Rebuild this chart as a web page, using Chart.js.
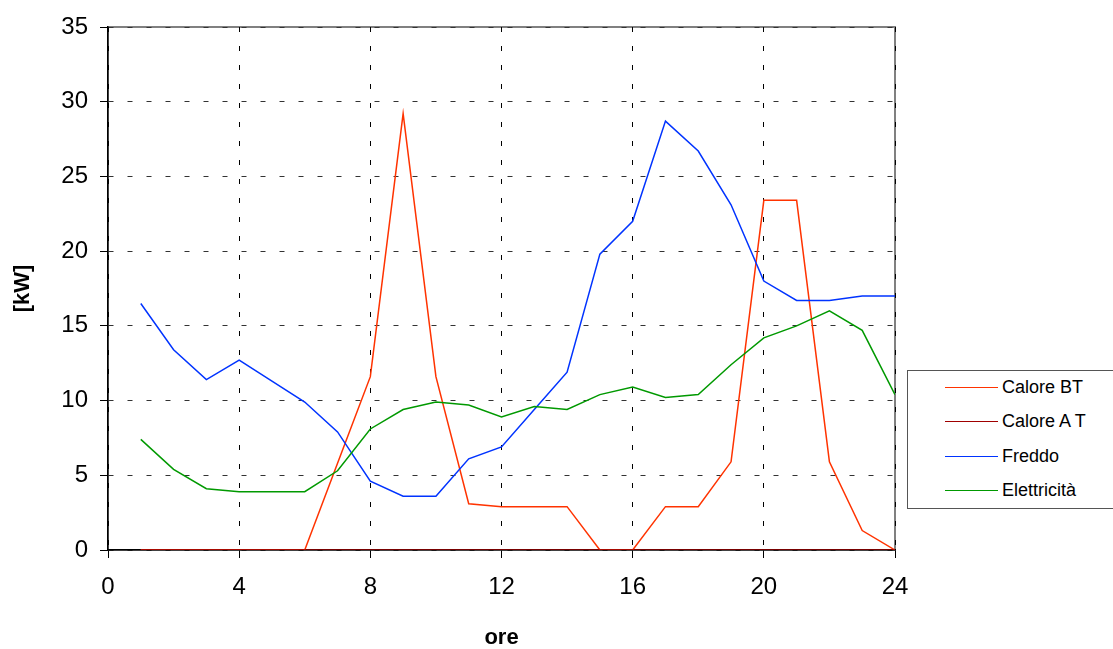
<!DOCTYPE html>
<html>
<head>
<meta charset="utf-8">
<script src="https://cdn.jsdelivr.net/npm/chart.js@4.4.1/dist/chart.umd.min.js"></script>
<style>
    body { margin: 0; background: #fff; }
    #wrap { position: relative; width: 1113px; height: 649px; }
    #legenda {
        position: absolute; left: 907px; top: 370px; width: 220px; height: 139px;
        border: 1px solid #555; box-sizing: border-box; background: #fff;
        font-family: "Liberation Sans", Arial, sans-serif; font-size: 18px; color: #000;
    }
    .voce { position: absolute; left: 37px; height: 20px; display: flex; align-items: center; }
    .voce span.linea { display: inline-block; width: 53px; height: 0; border-top: 1.5px solid; margin-right: 4px; }
</style>
</head>
<body>
<div id="wrap">
    <canvas id="grafico"></canvas>
    <div id="legenda"></div>
</div>
<script>
// ore del giorno
const ore = [1, 2, 3, 4, 5, 6, 7, 8, 9, 10, 11, 12, 13, 14, 15, 16, 17, 18, 19, 20, 21, 22, 23, 24];

// valori in kW
const caloreBT = [0, 0, 0, 0, 0, 0, 5.8, 11.6, 29.2, 11.6, 3.1, 2.9, 2.9, 2.9, 0, 0, 2.9, 2.9, 5.9, 23.4, 23.4, 5.9, 1.3, 0];
const caloreAT = [0, 0, 0, 0, 0, 0, 0, 0, 0, 0, 0, 0, 0, 0, 0, 0, 0, 0, 0, 0, 0, 0, 0, 0];
const freddo = [16.5, 13.4, 11.4, 12.7, 11.3, 9.9, 7.9, 4.6, 3.6, 3.6, 6.1, 6.9, 9.4, 11.9, 19.8, 22.0, 28.7, 26.7, 23.1, 18.0, 16.7, 16.7, 17.0, 17.0];
const elettricita = [7.4, 5.4, 4.1, 3.9, 3.9, 3.9, 5.3, 8.1, 9.4, 9.9, 9.7, 8.9, 9.6, 9.4, 10.4, 10.9, 10.2, 10.4, 12.4, 14.2, 15.0, 16.0, 14.7, 10.4];

const nomiSerie = ["Calore BT", "Calore A T", "Freddo", "Elettricità"];
const coloriSerie = ["#ff3300", "#a00000", "#0033ff", "#009900"];
const valoriSerie = [caloreBT, caloreAT, freddo, elettricita];

const tickX = [0, 4, 8, 12, 16, 20, 24];
const tickY = [0, 5, 10, 15, 20, 25, 30, 35];

const font = "'Liberation Sans', Arial, sans-serif";

// cornice grigia dell'area del grafico (stile Excel)
const cornice = {
    id: "cornice",
    beforeDraw(chart) {
        const { ctx, chartArea } = chart;
        ctx.save();
        ctx.strokeStyle = "#808080";
        ctx.lineWidth = 2;
        ctx.strokeRect(chartArea.left, chartArea.top, chartArea.right - chartArea.left, chartArea.bottom - chartArea.top);
        ctx.restore();
    },
};

const datasets = valoriSerie.map((valori, i) => ({
    label: nomiSerie[i],
    data: valori.map((v, k) => ({ x: ore[k], y: v })),
    borderColor: coloriSerie[i],
    backgroundColor: coloriSerie[i],
    borderWidth: 1.5,
    pointRadius: 0,
    tension: 0,
    order: valoriSerie.length - i,
}));

new Chart(document.getElementById("grafico"), {
    type: "line",
    data: { datasets: datasets },
    options: {
        responsive: true,
        maintainAspectRatio: false,
        animation: false,
        layout: { padding: { left: 0, top: 27, right: 218, bottom: 0 } },
        plugins: { legend: { display: false }, tooltip: { enabled: false } },
        scales: {
            x: {
                type: "linear",
                min: 0,
                max: 24,
                afterBuildTicks: (scale) => { scale.ticks = tickX.map((v) => ({ value: v })); },
                afterFit: (scale) => { scale.height = 99; },
                ticks: { color: "#000", font: { family: font, size: 24 }, padding: 15, maxRotation: 0 },
                grid: { color: "#000", lineWidth: 1, tickLength: 8, tickColor: "#000", tickBorderDash: [] },
                border: { color: "#000", width: 1.5, dash: [5, 14] },
                title: { display: true, text: "ore", color: "#000", font: { family: font, size: 22, weight: "bold", lineHeight: 1 }, padding: { top: 0, bottom: 0 } },
            },
            y: {
                min: 0,
                max: 35,
                afterBuildTicks: (scale) => { scale.ticks = tickY.map((v) => ({ value: v })); },
                afterFit: (scale) => { scale.width = 108; },
                ticks: { color: "#000", font: { family: font, size: 24 }, padding: 12 },
                grid: { color: "#333", lineWidth: 1, tickLength: 8, tickColor: "#000", tickBorderDash: [] },
                border: { color: "#000", width: 1.5, dash: [5, 14] },
                title: { display: true, text: "[kW]", color: "#000", font: { family: font, size: 22, weight: "bold" }, padding: { top: 10, bottom: 0 } },
            },
        },
    },
    plugins: [cornice],
});

// legenda a destra, come nel foglio originale
const legenda = document.getElementById("legenda");
nomiSerie.forEach((nome, i) => {
    const voce = document.createElement("div");
    voce.className = "voce";
    voce.style.top = (6 + i * 34.5) + "px";
    const linea = document.createElement("span");
    linea.className = "linea";
    linea.style.borderTopColor = coloriSerie[i];
    voce.appendChild(linea);
    voce.appendChild(document.createTextNode(nome));
    legenda.appendChild(voce);
});
</script>
</body>
</html>
